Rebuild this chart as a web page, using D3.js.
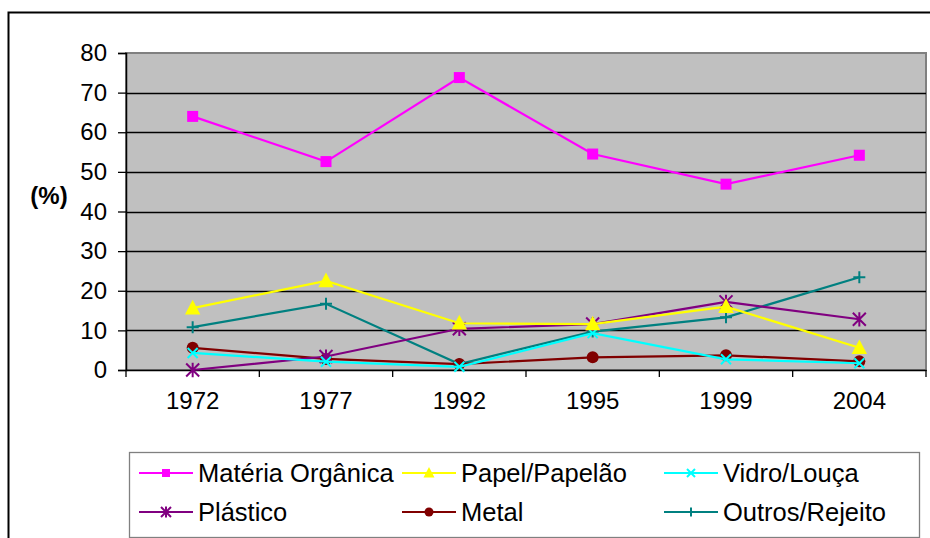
<!DOCTYPE html>
<html>
<head>
<meta charset="utf-8">
<script src="https://cdn.jsdelivr.net/npm/d3@7"></script>
<style>
  body { margin: 0; background: #fff; }
  svg { font-family: "Liberation Sans", Arial, sans-serif; }
</style>
</head>
<body>
<svg id="chart"></svg>
<script>
// Dados.
const ANOS = ["1972", "1977", "1992", "1995", "1999", "2004"];
const Y_TICKS = [0, 10, 20, 30, 40, 50, 60, 70, 80];

const MATERIA_ORGANICA = [64.0, 52.6, 73.8, 54.5, 46.9, 54.2];
const PAPEL_PAPELAO = [15.6, 22.5, 11.8, 11.6, 16.0, 5.6];
const VIDRO_LOUCA = [4.3, 2.1, 0.8, 9.3, 2.7, 1.7];
const PLASTICO = [0.0, 3.4, 10.4, 11.6, 17.2, 12.8];
const METAL = [5.6, 2.8, 1.5, 3.2, 3.7, 2.2];
const OUTROS_REJEITO = [10.8, 16.7, 1.5, 9.7, 13.3, 23.4];

const SERIES = [
  { nome: "Matéria Orgânica", valores: MATERIA_ORGANICA, cor: "#FF00FF", marca: "quadrado" },
  { nome: "Papel/Papelão", valores: PAPEL_PAPELAO, cor: "#FFFF00", marca: "triangulo" },
  { nome: "Vidro/Louça", valores: VIDRO_LOUCA, cor: "#00FFFF", marca: "xis" },
  { nome: "Plástico", valores: PLASTICO, cor: "#800080", marca: "asterisco" },
  { nome: "Metal", valores: METAL, cor: "#800000", marca: "circulo" },
  { nome: "Outros/Rejeito", valores: OUTROS_REJEITO, cor: "#008080", marca: "mais" }
];

// Configuração.
const WIDTH = 930;
const HEIGHT = 538;
const PLOT = { left: 126, right: 926, top: 53, bottom: 370 };

const svg = d3.select("svg#chart")
  .attr("width", WIDTH)
  .attr("height", HEIGHT);

// borda externa (cortada pela imagem)
svg.append("path")
  .attr("d", `M8.5,${HEIGHT + 5} V12.5 H${WIDTH + 5}`)
  .attr("fill", "none")
  .attr("stroke", "#000")
  .attr("stroke-width", 2);

const x = d3.scaleBand()
  .domain(ANOS)
  .range([PLOT.left, PLOT.right]);

const y = d3.scaleLinear()
  .domain([0, 80])
  .range([PLOT.bottom, PLOT.top]);

// fundo cinza
svg.append("rect")
  .attr("x", PLOT.left)
  .attr("y", PLOT.top)
  .attr("width", PLOT.right - PLOT.left)
  .attr("height", PLOT.bottom - PLOT.top)
  .attr("fill", "#C0C0C0")
  .attr("stroke", "#808080")
  .attr("stroke-width", 2);

// linhas de grade
svg.append("g")
  .selectAll("line")
  .data(Y_TICKS.filter(d => d > 0 && d < 80))
  .join("line")
    .attr("x1", PLOT.left)
    .attr("x2", PLOT.right)
    .attr("y1", d => Math.round(y(d)) + 0.5)
    .attr("y2", d => Math.round(y(d)) + 0.5)
    .attr("stroke", "#000")
    .attr("stroke-width", 1.3);

// eixo Y
const eixoY = svg.append("g")
  .attr("transform", `translate(${PLOT.left},0)`)
  .call(d3.axisLeft(y).tickValues(Y_TICKS).tickSize(8).tickPadding(11));
eixoY.select(".domain").attr("stroke", "#000").attr("stroke-width", 1.5);
eixoY.selectAll(".tick line").attr("stroke", "#000").attr("stroke-width", 1.3);
eixoY.selectAll(".tick text")
  .attr("font-size", 24)
  .attr("fill", "#000")
  .style("font-family", "Liberation Sans, Arial, sans-serif");

// eixo X
const eixoX = svg.append("g")
  .attr("transform", `translate(0,${PLOT.bottom})`)
  .call(d3.axisBottom(x).tickSize(0).tickPadding(22));
eixoX.select(".domain").attr("stroke", "#000").attr("stroke-width", 1.5);
eixoX.selectAll(".tick text")
  .attr("font-size", 24)
  .attr("fill", "#000")
  .style("font-family", "Liberation Sans, Arial, sans-serif");

// marcas entre categorias
const limites = ANOS.map(a => x(a)).concat([x(ANOS[ANOS.length - 1]) + x.bandwidth()]);
svg.append("g")
  .selectAll("line")
  .data(limites)
  .join("line")
    .attr("x1", d => d)
    .attr("x2", d => d)
    .attr("y1", PLOT.bottom)
    .attr("y2", PLOT.bottom + 7)
    .attr("stroke", "#000")
    .attr("stroke-width", 1.3);

// rótulo (%)
svg.append("text")
  .attr("x", 49)
  .attr("y", 195)
  .attr("text-anchor", "middle")
  .attr("dominant-baseline", "central")
  .attr("font-size", 24)
  .attr("font-weight", "bold")
  .text("(%)");

// desenha marcador
const desenhaMarca = (g, tipo, cor, s) => {
  if (tipo === "quadrado") {
    g.append("rect")
      .attr("x", -s / 2).attr("y", -s / 2)
      .attr("width", s).attr("height", s)
      .attr("fill", cor);
  } else if (tipo === "triangulo") {
    const h = s * 1.0;
    g.append("path")
      .attr("d", `M0,${-h * 0.6} L${s * 0.55},${h * 0.45} L${-s * 0.55},${h * 0.45} Z`)
      .attr("fill", cor);
  } else if (tipo === "circulo") {
    g.append("circle").attr("r", s / 2).attr("fill", cor);
  } else if (tipo === "xis") {
    const r = s / 2;
    g.append("path")
      .attr("d", `M${-r},${-r} L${r},${r} M${-r},${r} L${r},${-r}`)
      .attr("stroke", cor).attr("stroke-width", 2).attr("fill", "none");
  } else if (tipo === "mais") {
    const r = s / 2;
    g.append("path")
      .attr("d", `M${-r},0 L${r},0 M0,${-r} L0,${r}`)
      .attr("stroke", cor).attr("stroke-width", 2).attr("fill", "none");
  } else if (tipo === "asterisco") {
    const r = s / 2;
    g.append("path")
      .attr("d", `M${-r},${-r} L${r},${r} M${-r},${r} L${r},${-r} M0,${-r * 1.1} L0,${r * 1.1}`)
      .attr("stroke", cor).attr("stroke-width", 2).attr("fill", "none");
  }
};

const TAM_MARCA = { quadrado: 11, triangulo: 14, circulo: 12, xis: 10, mais: 12, asterisco: 13 };

const cx = (i) => x(ANOS[i]) + x.bandwidth() / 2;

const linha = d3.line()
  .x((d, i) => cx(i))
  .y(d => y(d));

const series_g = svg.append("g").attr("id", "series");

// ordem de desenho: última série por baixo
SERIES.slice().reverse().forEach((serie) => {
  const g = series_g.append("g");
  g.append("path")
    .datum(serie.valores)
    .attr("d", linha)
    .attr("fill", "none")
    .attr("stroke", serie.cor)
    .attr("stroke-width", 2.2);
  serie.valores.forEach((v, i) => {
    const m = g.append("g").attr("transform", `translate(${cx(i)},${y(v)})`);
    desenhaMarca(m, serie.marca, serie.cor, TAM_MARCA[serie.marca]);
  });
});

// legenda
const legenda = svg.append("g").attr("id", "legenda");
legenda.append("rect")
  .attr("x", 129.5)
  .attr("y", 452.5)
  .attr("width", 790)
  .attr("height", 85)
  .attr("fill", "#fff")
  .attr("stroke", "#808080")
  .attr("stroke-width", 1.3);

const COLUNAS = [139, 402, 664];
const LINHAS = [473, 512];
const TAM_LEGENDA = { quadrado: 8, triangulo: 10, circulo: 9, xis: 8, mais: 9, asterisco: 10 };

SERIES.forEach((serie, i) => {
  const lx = COLUNAS[i % 3];
  const ly = LINHAS[Math.floor(i / 3)];
  const g = legenda.append("g").attr("transform", `translate(${lx},${ly})`);
  g.append("line")
    .attr("x1", 0).attr("x2", 54)
    .attr("stroke", serie.cor).attr("stroke-width", 2);
  const m = g.append("g").attr("transform", "translate(27,0)");
  desenhaMarca(m, serie.marca, serie.cor, TAM_LEGENDA[serie.marca]);
  g.append("text")
    .attr("x", 59)
    .attr("y", 0)
    .attr("dominant-baseline", "central")
    .attr("font-size", 25.5)
    .attr("fill", "#000")
    .text(serie.nome);
});
</script>
</body>
</html>
